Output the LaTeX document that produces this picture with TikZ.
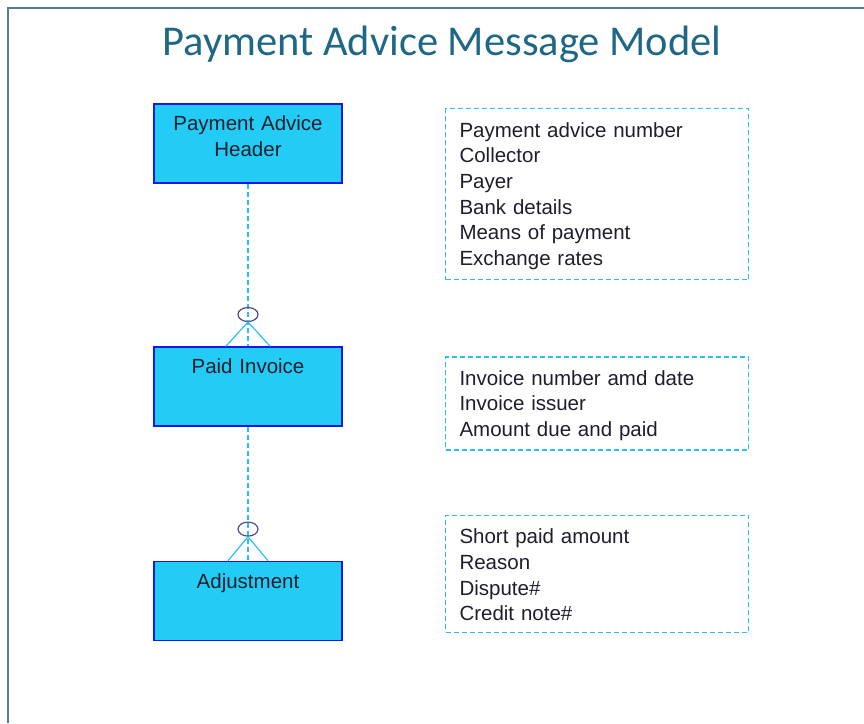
\documentclass[tikz,border=0pt]{standalone}
\usepackage{fontspec}
\setmainfont{Liberation Sans}
\newfontfamily\titlefont{Carlito}
\usetikzlibrary{positioning,shapes.geometric}

\definecolor{titleteal}{RGB}{30,104,134}
\definecolor{entityfill}{RGB}{34,204,245}
\definecolor{entityline}{RGB}{22,22,238}
\definecolor{linkcyan}{RGB}{45,190,245}
\definecolor{optline}{RGB}{78,76,128}
\definecolor{framegray}{RGB}{90,120,165}
\definecolor{inktext}{RGB}{30,30,45}

\begin{document}
\begin{tikzpicture}[
  x=1pt, y=-1pt,
  entity/.style = {
    draw=entityline,
    line width=1.6pt,
    shape=rectangle,
    fill=entityfill,
    text=inktext,
    text width=180pt,
    align=center,
    inner xsep=4pt,
    inner ysep=0pt,
    text height=27pt,
    text depth=52pt,
    font=\fontsize{20.5}{26}\selectfont
  },
  attrs/.style = {
    draw=linkcyan,
    dashed,
    dash pattern=on 5pt off 3pt,
    line width=1.4pt,
    text=inktext,
    text width=275pt,
    align=left,
    inner xsep=14pt,
    inner ysep=0pt,
    text height=28.5pt,
    anchor=north west,
    font=\fontsize{20.5}{25.6}\selectfont
  },
  link/.style = {
    draw=linkcyan,
    line width=1.3pt,
    dash pattern=on 5pt off 3pt
  },
  foot/.style = {
    draw=linkcyan,
    line width=1.2pt
  },
  optional/.style = {
    draw=optline,
    shape=ellipse,
    line width=1.2pt,
    minimum width=20pt,
    minimum height=14pt,
    inner sep=0pt
  },
]
  \useasboundingbox (0,0) rectangle (864,723);
  \draw[framegray, line width=1.4pt] (8,723) -- (8,8) -- (864,8);

  \node (title)[
    font=\titlefont\fontsize{42.5}{48}\selectfont,
    text=titleteal
  ] at (442,44) {Payment Advice Message Model};

  % entities
  \node (header)[
    entity,
    anchor=north
  ] at (248,103) {Payment Advice\\Header};
  \node (invoice)[
    entity,
    below=162.5pt of header
  ] {Paid Invoice};
  \node (adjust)[
    entity,
    below=134pt of invoice
  ] {Adjustment};

  % attribute lists
  \node (headerattrs)[
    attrs,
    text depth=142.5pt
  ] at ([xshift=102pt,yshift=-5pt]header.north east)
    {Payment advice number\\Collector\\Payer\\Bank details\\Means of payment\\Exchange rates};
  \node (invoiceattrs)[
    attrs,
    text depth=64.5pt
  ] at ([xshift=102pt,yshift=-10pt]invoice.north east)
    {Invoice number amd date\\Invoice issuer\\Amount due and paid};
  \node (adjustattrs)[
    attrs,
    text depth=88.5pt
  ] at ([xshift=102pt,yshift=46pt]adjust.north east)
    {Short paid amount\\Reason\\Dispute\#\\Credit note\#};

  % relationships
  \draw[link] (header) -- (invoice);
  \draw[link] (invoice) -- (adjust);

  \node (opt1)[optional, above=24pt of invoice.north] {};
  \node (opt2)[optional, above=24pt of adjust.north] {};

  \draw[foot] ([xshift=-22pt]invoice.north) -- (opt1.south) -- ([xshift=22pt]invoice.north);
  \draw[foot] ([xshift=-20pt]adjust.north) -- (opt2.south) -- ([xshift=20pt]adjust.north);
\end{tikzpicture}
\end{document}
